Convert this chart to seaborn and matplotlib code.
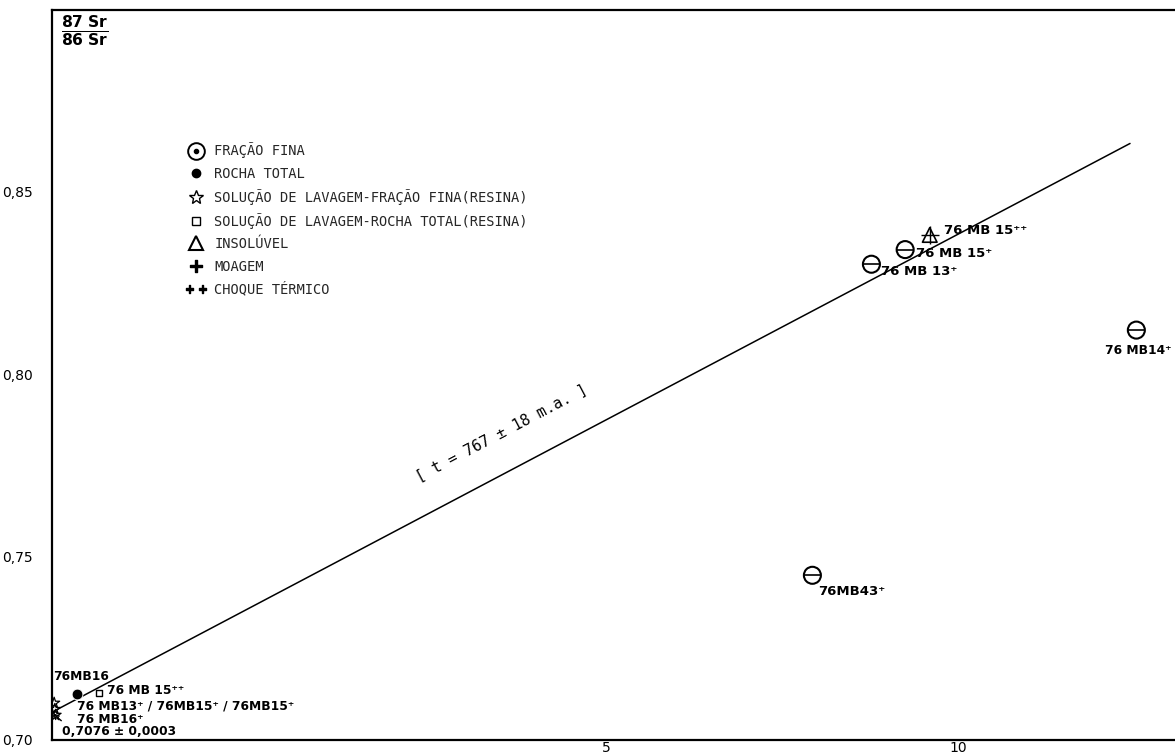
"""
Diagrama isocrônico Rb/Sr (87Sr/86Sr) - frações finas, rocha total,
soluções de lavagem e insolúvel, com a reta de referência t = 767 ± 18 m.a.
"""
import numpy as np
import pandas as pd
import seaborn as sns
import matplotlib.pyplot as plt
from matplotlib.lines import Line2D
from matplotlib.ticker import FuncFormatter

fina_x = [8.77, 9.25, 12.54, 7.93]
fina_y = [0.830, 0.834, 0.812, 0.745]
rocha_x = [-2.54]
rocha_y = [0.7125]
lav_fina_x = [-2.86, -2.85, -2.84]
lav_fina_y = [0.7101, 0.7084, 0.7068]
lav_rocha_x = [-2.22]
lav_rocha_y = [0.7128]
insol_x = [9.60]
insol_y = [0.838]
reta_x = [-2.89, 12.45]
reta_y = [0.7076, 0.863]
x_ticks = [5, 10]
y_ticks = [0.70, 0.75, 0.80, 0.85]

sns.set_theme(style='white')
plt.rcParams['font.family'] = ['DejaVu Sans']

fig = plt.figure(figsize=(11.75, 7.55), dpi=100)
ax = fig.add_axes([0.0443, 0.0199, 0.9557, 0.967])

ax.set_xlim(-2.89, 13.09)
ax.set_ylim(0.70, 0.8995)

# reta isocrônica
df_reta = pd.DataFrame({'x': reta_x, 'y': reta_y})
sns.lineplot(data=df_reta, x='x', y='y', color='black', linewidth=1.1, ax=ax)

# fração fina: círculo vazado com barra horizontal
df_fina = pd.DataFrame({'x': fina_x, 'y': fina_y})
sns.scatterplot(data=df_fina, x='x', y='y', marker='o', s=150, facecolor='none',
                edgecolor='black', linewidth=1.5, ax=ax, zorder=3)
sns.scatterplot(data=df_fina, x='x', y='y', marker='_', s=150, color='black',
                linewidth=1.2, ax=ax, zorder=3)

# rocha total
sns.scatterplot(x=rocha_x, y=rocha_y, marker='o', s=60, color='black', ax=ax, zorder=3)
# solução de lavagem - fração fina
sns.scatterplot(x=lav_fina_x, y=lav_fina_y, marker='*', s=70, facecolor='none',
                edgecolor='black', linewidth=0.9, ax=ax, zorder=3)
# solução de lavagem - rocha total
sns.scatterplot(x=lav_rocha_x, y=lav_rocha_y, marker='s', s=22, facecolor='none',
                edgecolor='black', linewidth=1.0, ax=ax, zorder=3)
# insolúvel
sns.scatterplot(x=insol_x, y=insol_y, marker='^', s=110, facecolor='none',
                edgecolor='black', linewidth=1.2, ax=ax, zorder=3)
sns.scatterplot(x=insol_x, y=insol_y, marker='+', s=160, color='black',
                linewidth=1.0, ax=ax, zorder=3)

# rótulos das amostras
lab = dict(fontsize=9.5, fontweight='bold', color='black', textcoords='offset points')
low = dict(fontsize=8.8, fontweight='bold', color='black', textcoords='offset points')
ax.annotate('76 MB 13⁺', (fina_x[0], fina_y[0]), xytext=(7, -5), ha='left', va='center', **lab)
ax.annotate('76 MB 15⁺', (fina_x[1], fina_y[1]), xytext=(8, -3), ha='left', va='center', **lab)
ax.annotate('76 MB14⁺', (fina_x[2], fina_y[2]), xytext=(25, -15), ha='right', va='center', **low)
ax.annotate('76MB43⁺', (fina_x[3], fina_y[3]), xytext=(4, -12), ha='left', va='center', **lab)
ax.annotate('76 MB 15⁺⁺', (insol_x[0], insol_y[0]), xytext=(10, 3), ha='left', va='center', **lab)
ax.annotate('76MB16', (rocha_x[0], rocha_y[0]), xytext=(-17, 12.5), ha='left', va='center', **low)
ax.annotate('76 MB 15⁺⁺', (lav_rocha_x[0], lav_rocha_y[0]), xytext=(6, 2), ha='left', va='center', **low)
ax.annotate('76 MB13⁺ / 76MB15⁺ / 76MB15⁺', (rocha_x[0], rocha_y[0]),
            xytext=(0, -8.8), ha='left', va='center', **low)
ax.annotate('76 MB16⁺', (rocha_x[0], rocha_y[0]), xytext=(0, -18.3), ha='left', va='center', **low)
ax.annotate('0,7076 ± 0,0003', (reta_x[0], reta_y[0]), xytext=(7, -13.8), ha='left', va='center',
            arrowprops=dict(arrowstyle='->', color='black', lw=1.0, shrinkA=1, shrinkB=1,
                            connectionstyle='arc3,rad=-0.3'), **low)

# idade ao longo da reta
p1, p2 = ax.transData.transform([(reta_x[0], reta_y[0]), (reta_x[1], reta_y[1])])
ang = np.degrees(np.arctan2(p2[1] - p1[1], p2[0] - p1[0]))
xm = 3.75
ym = np.interp(xm, reta_x, reta_y)
ax.annotate('[ t = 767 ± 18 m.a. ]', (xm, ym), xytext=(-10, 19), textcoords='offset points',
            rotation=ang, rotation_mode='anchor', ha='center', va='bottom',
            fontsize=11, family='DejaVu Sans Mono', color='black')

# legenda
handles = [
    (Line2D([], [], ls='', marker='o', markerfacecolor='none', markeredgecolor='black',
            markersize=12, markeredgewidth=1.4),
     Line2D([], [], ls='', marker='o', color='black', markersize=3)),
    Line2D([], [], ls='', marker='o', color='black', markersize=6),
    Line2D([], [], ls='', marker='*', markerfacecolor='none', markeredgecolor='black', markersize=10),
    Line2D([], [], ls='', marker='s', markerfacecolor='none', markeredgecolor='black', markersize=6),
    Line2D([], [], ls='', marker='^', markerfacecolor='none', markeredgecolor='black', markersize=10,
           markeredgewidth=1.5),
    Line2D([], [], ls='', marker='$+$', color='black', markersize=8),
    Line2D([], [], ls='', marker='$++$', color='black', markersize=15),
]
labels = ['FRAÇÃO FINA', 'ROCHA TOTAL', 'SOLUÇÃO DE LAVAGEM-FRAÇÃO FINA(RESINA)',
          'SOLUÇÃO DE LAVAGEM-ROCHA TOTAL(RESINA)', 'INSOLÚVEL', 'MOAGEM', 'CHOQUE TÉRMICO']
ax.legend(handles, labels, loc='upper left', bbox_to_anchor=(0.115, 0.826), frameon=False,
          prop={'family': 'DejaVu Sans Mono', 'size': 9.9}, labelspacing=0.6,
          handletextpad=0.6, handlelength=1.4, borderaxespad=0)

# eixo y: 87Sr/86Sr
ax.text(0.008, 0.996, r'$\frac{\mathbf{87\ Sr}}{\mathbf{86\ Sr}}$', transform=ax.transAxes,
        ha='left', va='top', fontsize=16, color='black')

ax.set_xticks(x_ticks)
ax.set_yticks(y_ticks)
ax.yaxis.set_major_formatter(FuncFormatter(lambda v, _: f'{v:.2f}'.replace('.', ',')))
ax.tick_params(axis='both', direction='in', length=10, width=1.2, colors='black', labelsize=10)
ax.tick_params(axis='y', pad=14)
ax.tick_params(axis='x', pad=1)
ax.set_xlabel('')
ax.set_ylabel('')
for s in ax.spines.values():
    s.set_color('black')
    s.set_linewidth(1.6)
ax.spines['right'].set_visible(False)

plt.savefig('out.png', dpi=100)
